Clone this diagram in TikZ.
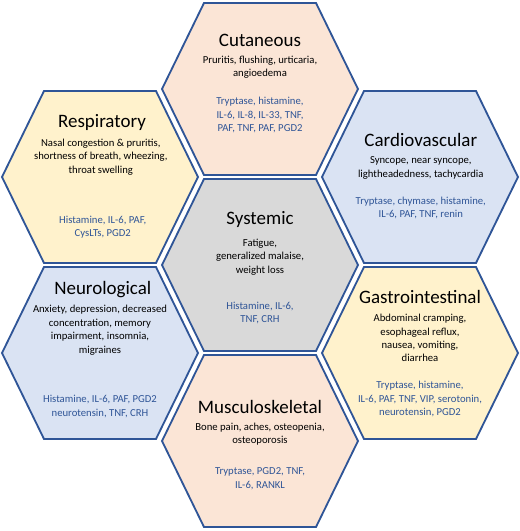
\documentclass[tikz,border=0pt]{standalone}
\usepackage{fontspec}
\setmainfont{Carlito}
\definecolor{hexblue}{HTML}{2F5597}
\definecolor{peach}{HTML}{FBE5D6}
\definecolor{cream}{HTML}{FFF2CC}
\definecolor{paleblue}{HTML}{DAE3F3}
\definecolor{palegray}{HTML}{D9D9D9}
\tikzset{
  hexline/.style={draw=hexblue, line width=1.3pt, line join=miter},
  organ/.style={inner sep=0pt, font=\fontsize{13.5}{16}\selectfont},
  sympt/.style={align=center, inner sep=0pt, font=\fontsize{7.6}{9.5}\selectfont},
  media/.style={align=center, inner sep=0pt, text=hexblue, font=\fontsize{7.6}{9.5}\selectfont},
}
% one hexagon cell: centre x, centre y, fill
\newcommand{\hexcell}[3]{%
  \draw[hexline, fill=#3, shift={(#1,#2)}] (-2.45,0) -- (-1.4,2.15) -- (1.4,2.15)
    -- (2.45,0) -- (1.4,-2.15) -- (-1.4,-2.15) -- cycle;}
\begin{document}
\begin{tikzpicture}
                \useasboundingbox (-6.5,-6.65) rectangle (6.5,6.625);

                \hexcell{0}{4.4}{peach}
                \hexcell{-4}{2.2}{cream}
                \hexcell{4}{2.2}{paleblue}
                \hexcell{0}{0}{palegray}
                \hexcell{-4}{-2.2}{paleblue}
                \hexcell{4}{-2.2}{cream}
                \hexcell{0}{-4.4}{peach}

                \node[organ] (cutT) at (0,5.625) {Cutaneous};
                \node[sympt] (cutS) at (0,4.95) {Pruritis, flushing, urticaria,\\angioedema};
                \node[media] (cutM) at (0,3.75) {Tryptase, histamine,\\IL-6, IL-8, IL-33, TNF,\\PAF, TNF, PAF, PGD2};

                \node[organ] (resT) at (-3.95,3.55) {Respiratory};
                \node[sympt] (resS) at (-3.98,2.7) {Nasal congestion \& pruritis,\\shortness of breath, wheezing,\\throat swelling};
                \node[media] (resM) at (-3.93,0.95) {Histamine, IL-6, PAF,\\CysLTs, PGD2};

                \node[organ] (carT) at (4.02,3.125) {Cardiovascular};
                \node[sympt] (carS) at (4.02,2.43) {Syncope, near syncope,\\lightheadedness, tachycardia};
                \node[media] (carM) at (4.02,1.42) {Tryptase, chymase, histamine,\\IL-6, PAF, TNF, renin};

                \node[organ] (sysT) at (0,1.125) {Systemic};
                \node[sympt] (sysS) at (0,0.2) {Fatigue,\\generalized malaise,\\weight loss};
                \node[media] (sysM) at (0,-1.2) {Histamine, IL-6,\\TNF, CRH};

                \node[organ] (neuT) at (-3.93,-0.625) {Neurological};
                \node[sympt] (neuS) at (-4,-1.63) {Anxiety, depression, decreased\\concentration, memory\\impairment, insomnia,\\migraines};
                \node[media] (neuM) at (-4,-3.54) {Histamine, IL-6, PAF, PGD2\\neurotensin, TNF, CRH};

                \node[organ] (gasT) at (4,-0.8) {Gastrointestinal};
                \node[sympt] (gasS) at (4,-1.83) {Abdominal cramping,\\esophageal reflux,\\nausea, vomiting,\\diarrhea};
                \node[media] (gasM) at (4,-3.35) {Tryptase, histamine,\\IL-6, PAF, TNF, VIP, serotonin,\\neurotensin, PGD2};

                \node[organ] (musT) at (0,-3.55) {Musculoskeletal};
                \node[sympt] (musS) at (0,-4.23) {Bone pain, aches, osteopenia,\\osteoporosis};
                \node[media] (musM) at (0,-5.34) {Tryptase, PGD2, TNF,\\IL-6, RANKL};
            \end{tikzpicture}
\end{document}
